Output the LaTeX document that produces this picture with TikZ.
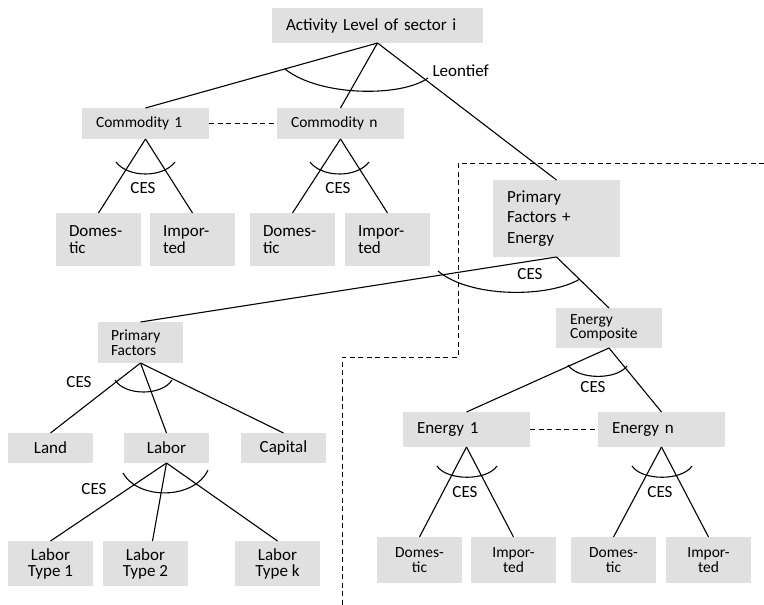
\documentclass[tikz,border=0pt]{standalone}
\usepackage{fontspec}
\setmainfont{Carlito}
\usetikzlibrary{positioning}

\begin{document}
\begin{tikzpicture}[x=1pt, y=-1pt, line width=1.1pt]
    \tikzstyle{box} = [fill=black!12, inner sep=0pt, outer sep=0pt, font=\fontsize{17}{17}\selectfont];
    \tikzstyle{lbox} = [box, align=left, inner xsep=14pt];
    \tikzstyle{cbox} = [box, align=center, minimum width=85pt];
    \tikzstyle{small} = [font=\fontsize{15.5}{15}\selectfont];
    \tikzstyle{ces} = [inner sep=1pt, font=\fontsize{17}{17}\selectfont];
    \tikzstyle{dots} = [line width=0.9pt, dash pattern=on 5pt off 3.5pt];

    \useasboundingbox (0,0) rectangle (764,605);

    % intermediate inputs
    \node[lbox, text width=183pt, minimum height=35pt] (act) at (377.5,25.5) {Activity Level of sector i};
    \node[lbox, small, text width=99pt, minimum height=31pt] (com1) at (145.5,123.5) {Commodity 1};
    \node[lbox, small, text width=99pt, minimum height=31pt, right=68pt of com1] (comn) {Commodity n};

    \node[lbox, inner xsep=13pt, text width=59pt, minimum height=53pt] (dom1) at (98.5,239.5) {Domes-\\tic};
    \node[lbox, inner xsep=13pt, text width=59pt, minimum height=53pt, right=9pt of dom1] (imp1) {Impor-\\ted};
    \node[lbox, inner xsep=13pt, text width=59pt, minimum height=53pt, right=15pt of imp1] (domn) {Domes-\\tic};
    \node[lbox, inner xsep=13pt, text width=59pt, minimum height=53pt, right=10pt of domn] (impn) {Impor-\\ted};

    % value added and energy
    \node[lbox, text width=99pt, minimum height=77pt, font=\fontsize{17}{20.5}\selectfont] (pfe) at (556.5,218.5) {Primary\\Factors +\\Energy};
    \node[lbox, small, inner xsep=13pt, text width=59pt, minimum height=41pt] (pf) at (140.5,342.5) {Primary\\Factors};
    \node[lbox, text width=78pt, minimum height=40pt, font=\fontsize{15.5}{14.5}\selectfont] (ec) at (609,328) {Energy\\Composite};

    \node[cbox, minimum height=30pt] (land) at (50.5,448) {Land};
    \node[cbox, minimum height=30pt, right=31pt of land] (labor) {Labor};
    \node[cbox, minimum height=30pt, right=32pt of labor] (capital) {Capital};

    \node[cbox, minimum height=45pt, font=\fontsize{17}{16}\selectfont] (lt1) at (50.5,563.5) {Labor\\Type 1};
    \node[cbox, minimum height=45pt, font=\fontsize{17}{16}\selectfont, right=10pt of lt1] (lt2) {Labor\\Type 2};
    \node[cbox, minimum height=45pt, font=\fontsize{17}{16}\selectfont, right=47pt of lt2] (ltk) {Labor\\Type k};

    \node[lbox, text width=99pt, minimum height=35pt] (e1) at (466.5,429.5) {Energy 1};
    \node[lbox, text width=99pt, minimum height=35pt, right=68pt of e1] (en) {Energy n};

    \node[cbox, small, minimum height=46pt] (edom1) at (419.5,560) {Domes-\\tic};
    \node[cbox, small, minimum height=46pt, right=9pt of edom1] (eimp1) {Impor-\\ted};
    \node[cbox, small, minimum height=46pt, right=15pt of eimp1] (edomn) {Domes-\\tic};
    \node[cbox, small, minimum height=46pt, right=10pt of edomn] (eimpn) {Impor-\\ted};

    % tree branches
    \draw (act.south) -- (com1.north);
    \draw (act.south) -- (comn.north);
    \draw (act.south) -- (pfe.north);
    \draw[dots] (com1.east) -- (comn.west);

    \draw (com1.south) -- (dom1.north);
    \draw (com1.south) -- (imp1.north);
    \draw (comn.south) -- (domn.north);
    \draw (comn.south) -- (impn.north);

    \draw (pfe.south) -- (pf.north);
    \draw (pfe.south) -- (ec.north);

    \draw (pf.south) -- (land.north);
    \draw (pf.south) -- (labor.north);
    \draw (pf.south) -- (capital.north);

    \draw (labor.south) -- (lt1.north);
    \draw (labor.south) -- ([xshift=7pt]lt2.north);
    \draw (labor.south) -- (ltk.north);

    \draw (ec.south) -- (e1.north);
    \draw (ec.south) -- (en.north);
    \draw[dots] (e1.east) -- (en.west);

    \draw (e1.south) -- (edom1.north);
    \draw (e1.south) -- (eimp1.north);
    \draw (en.south) -- (edomn.north);
    \draw (en.south) -- (eimpn.north);

    % elasticity arcs
    \draw (285,69) .. controls (320,97) and (402,97) .. (428,78);
    \draw (116,162) .. controls (128,178) and (163,178) .. (175,162);
    \draw (310,162) .. controls (322,178) and (357,178) .. (369,162);
    \draw (438,271) .. controls (470,298) and (548,298) .. (580,279);
    \draw (568,365) .. controls (578,380) and (617,380) .. (627,366);
    \draw (115,380) .. controls (125,396) and (162,396) .. (172,380);
    \draw (123,473) .. controls (138,500) and (194,500) .. (208,470);
    \draw (437,466) .. controls (447,481) and (487,481) .. (497,466);
    \draw (632,466) .. controls (642,481) and (682,481) .. (692,466);

    \node[ces, anchor=west] (leon) at (431,71) {Leontief};
    \node[ces] (ces1) at (143,188) {CES};
    \node[ces] (ces2) at (338,188) {CES};
    \node[ces] (ces3) at (530,274) {CES};
    \node[ces] (ces4) at (593,387) {CES};
    \node[ces] (ces5) at (79,382) {CES};
    \node[ces] (ces6) at (94,489) {CES};
    \node[ces] (ces7) at (465,492) {CES};
    \node[ces] (ces8) at (660,492) {CES};

    % energy nest boundary
    \draw[dots] (764,163) -- (458,163) -- (458,357) -- (342,357) -- (342,605);
\end{tikzpicture}
\end{document}
